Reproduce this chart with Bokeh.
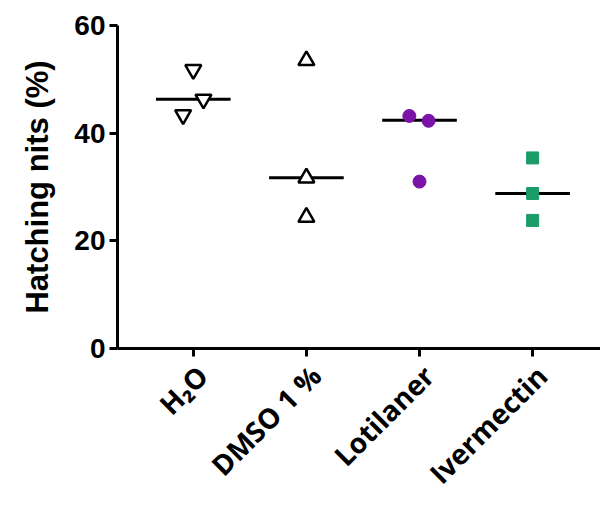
import math
from bokeh.plotting import figure
from bokeh.models import FixedTicker, Range1d, LinearAxis
from bokeh.embed import file_html
from bokeh.resources import INLINE

categories = ["H\u2082O", "DMSO 1 %", "Lotilaner", "Ivermectin"]
h2o = [51.8, 46.3, 43.4]
dmso = [53.5, 31.7, 24.4]
lotilaner = [43.2, 42.3, 31.0]
ivermectin = [35.4, 28.8, 23.8]
h2o_jitter = [0.0, 0.09, -0.09]
dmso_jitter = [0.0, 0.0, 0.0]
lotilaner_jitter = [-0.09, 0.08, 0.0]
ivermectin_jitter = [0.0, 0.0, 0.0]
medians = [46.3, 31.7, 42.4, 28.8]
y_ticks = [0, 20, 40, 60]

x0, x1 = 0.33, 4.6
label_shift = 0.08

p = figure(width=600, height=507, output_backend="svg", toolbar_location=None,
           x_range=Range1d(x0, x1), y_range=Range1d(0, 60),
           min_border_left=117, min_border_right=0, min_border_top=25,
           min_border_bottom=157)
p.outline_line_color = None
p.grid.visible = False
p.extra_x_ranges = {"labels": Range1d(x0 - label_shift, x1 - label_shift)}

pos = list(range(1, len(categories) + 1))

# median lines
p.segment(x0=[x - 0.33 for x in pos], x1=[x + 0.33 for x in pos], y0=medians, y1=medians,
          line_color="black", line_width=3)

p.scatter([1 + j for j in h2o_jitter], h2o, marker="inverted_triangle", size=16,
          fill_color="white", line_color="black", line_width=2.5)
p.scatter([2 + j for j in dmso_jitter], dmso, marker="triangle", size=16,
          fill_color="white", line_color="black", line_width=2.5)
p.scatter([3 + j for j in lotilaner_jitter], lotilaner, marker="circle", size=13,
          fill_color="#7a14a6", line_color="#7a14a6")
p.scatter([4 + j for j in ivermectin_jitter], ivermectin, marker="square", size=12,
          fill_color="#199c68", line_color="#199c68")

p.yaxis.ticker = FixedTicker(ticks=y_ticks)
p.xaxis.ticker = FixedTicker(ticks=pos)
p.xaxis.major_label_overrides = {i: "" for i in pos}
p.xaxis.major_label_text_font_size = "0px"
p.xaxis.major_label_standoff = 0

for ax in (p.xaxis[0], p.yaxis[0]):
    ax.axis_line_width = 3
    ax.major_tick_line_width = 3
    ax.major_tick_out = 8
    ax.major_tick_in = 0
    ax.minor_tick_line_color = None

lab_axis = LinearAxis(x_range_name="labels", ticker=FixedTicker(ticks=pos),
                      major_label_overrides={i + 1: c for i, c in enumerate(categories)},
                      major_label_orientation=math.pi / 4,
                      axis_line_color=None, major_tick_line_color=None,
                      minor_tick_line_color=None, major_tick_out=0, major_tick_in=0,
                      major_label_text_font="Open Sans",
                      major_label_text_font_style="bold",
                      major_label_text_font_size="28px",
                      major_label_text_color="black",
                      major_label_standoff=14)
p.add_layout(lab_axis, "below")

p.yaxis.major_label_text_font = "Liberation Sans"
p.yaxis.major_label_text_font_style = "bold"
p.yaxis.major_label_text_font_size = "28px"
p.yaxis.major_label_text_color = "black"
p.yaxis.major_label_standoff = 4
p.yaxis.axis_label = "Hatching nits (%)"
p.yaxis.axis_label_text_font = "Liberation Sans"
p.yaxis.axis_label_text_font_style = "bold"
p.yaxis.axis_label_text_font_size = "31px"
p.yaxis.axis_label_text_color = "black"
p.yaxis.axis_label_standoff = 16

open("out.html", "w").write(file_html(p, INLINE))
